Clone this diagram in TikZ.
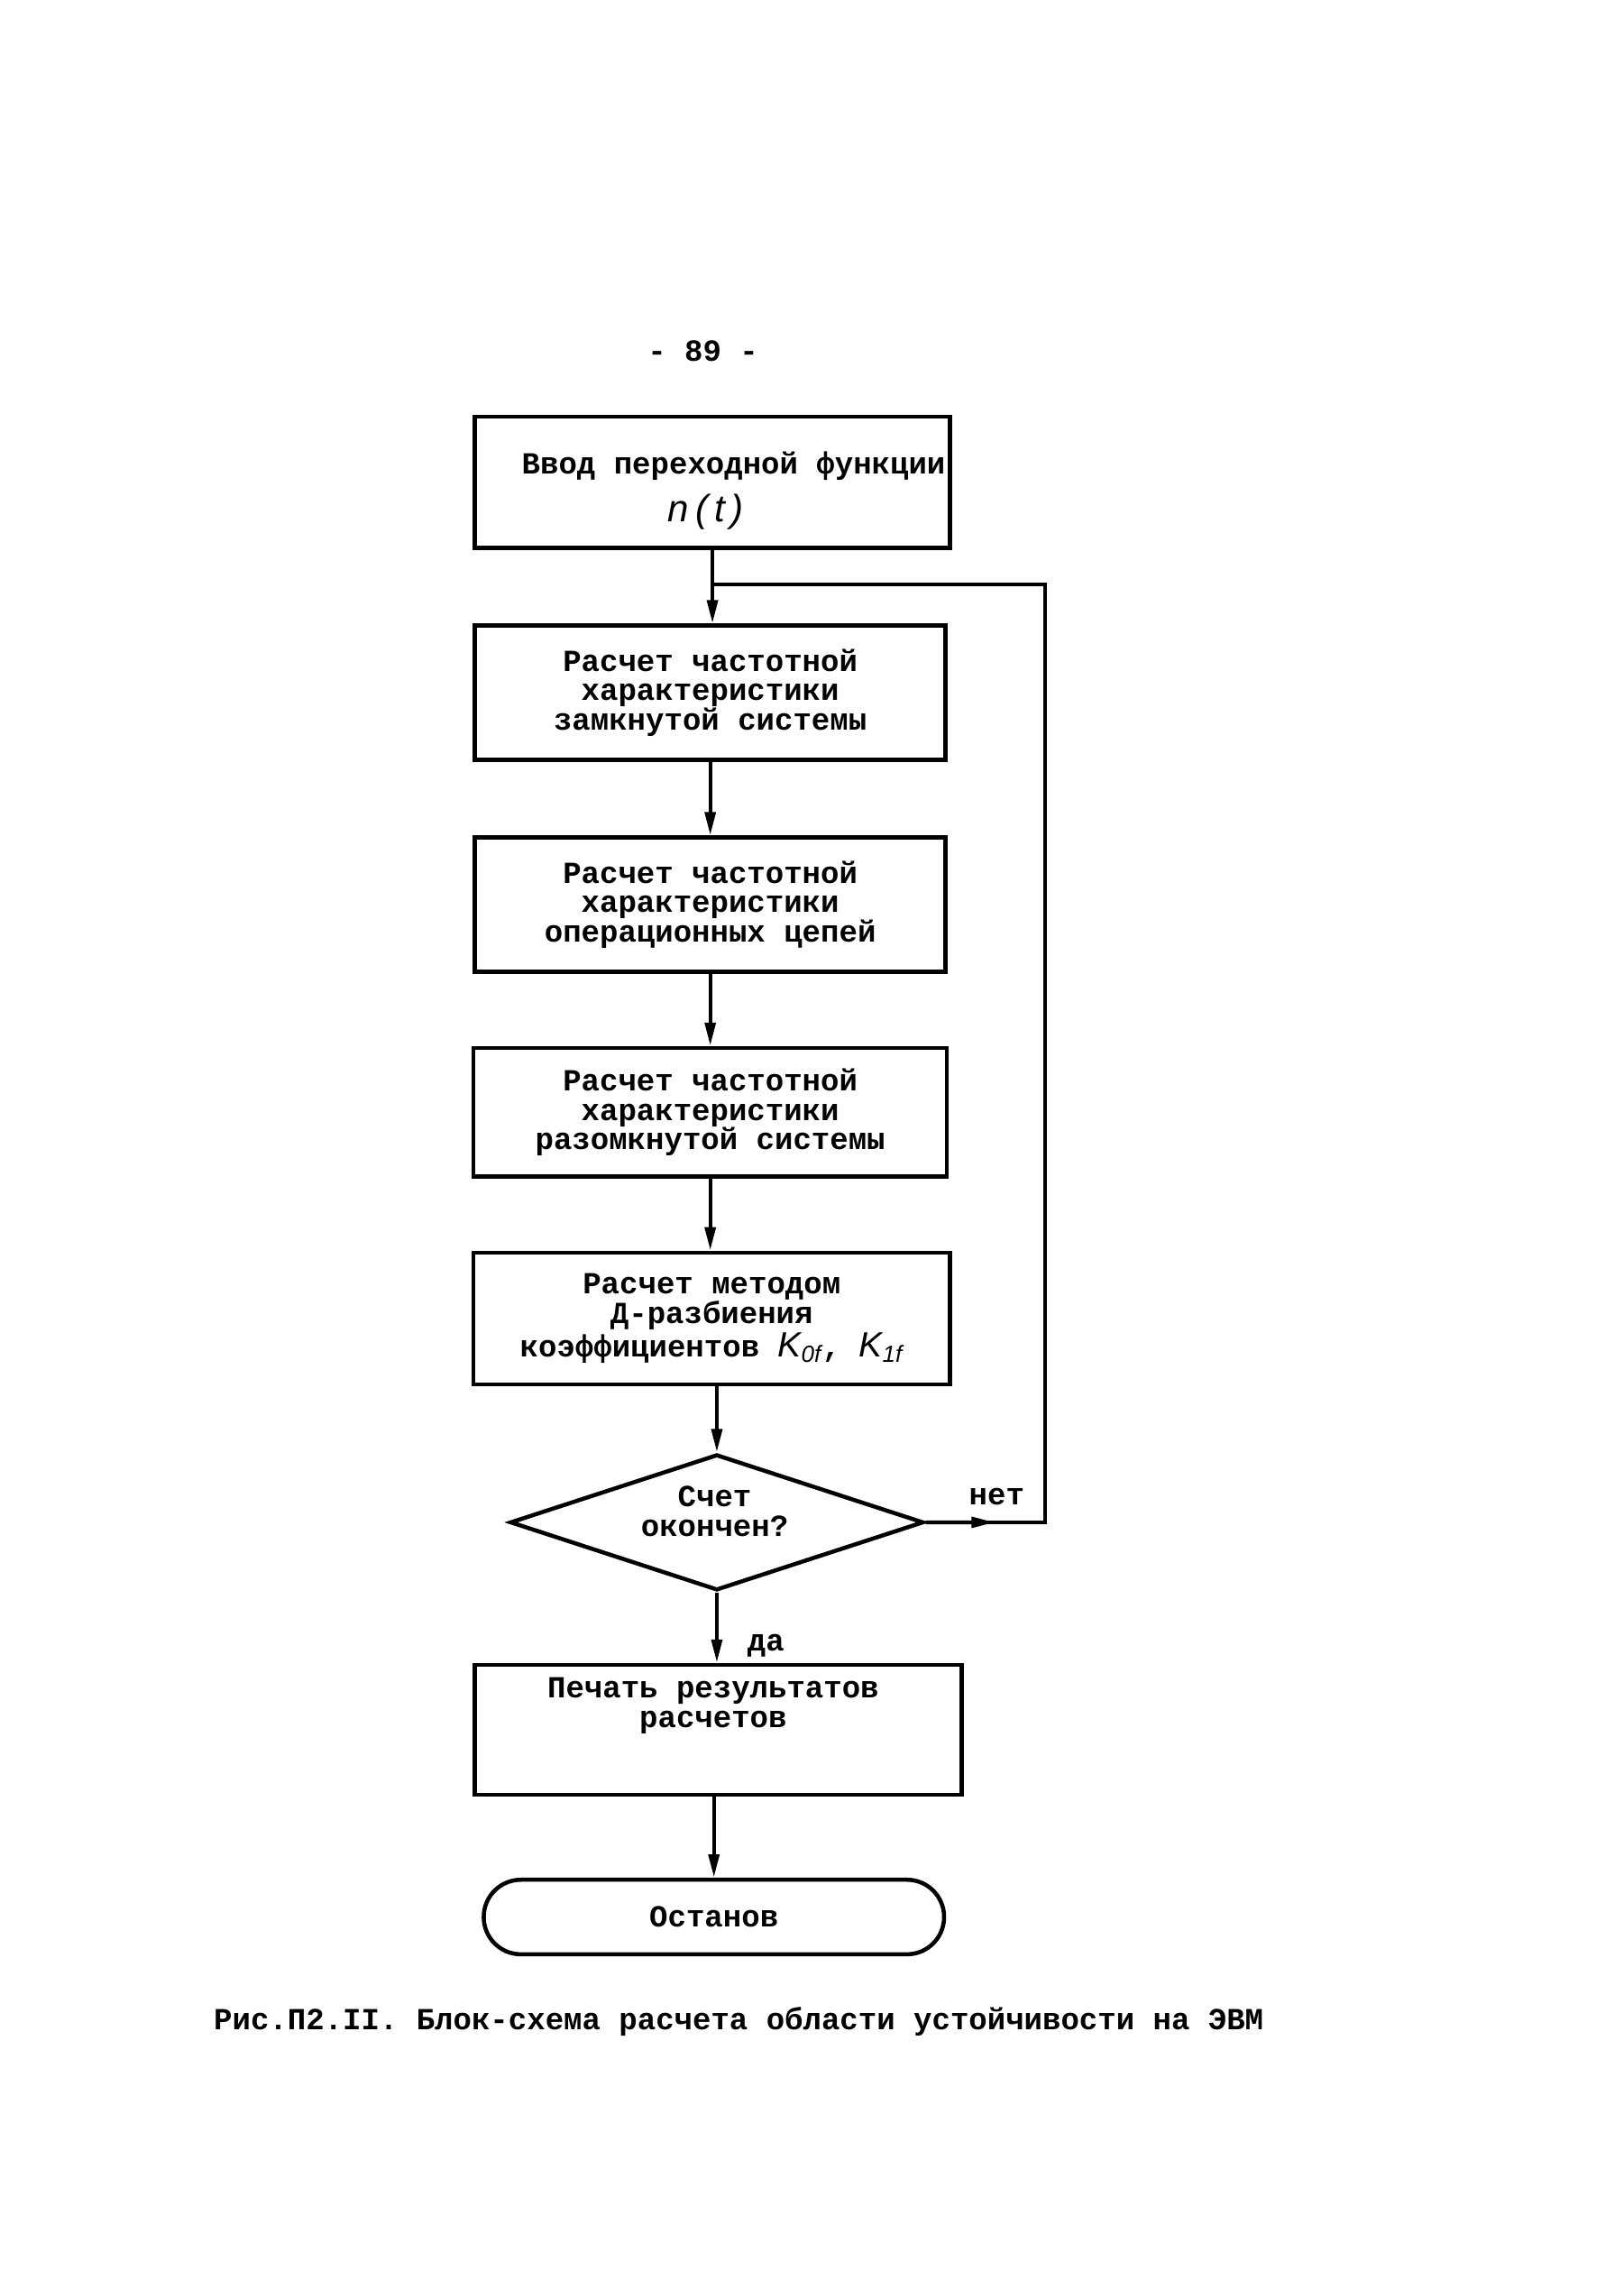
\documentclass[tikz,border=0pt]{standalone}
\usepackage{fontspec}
\setmainfont{Liberation Mono}
\newfontfamily\itfont{Liberation Sans}
\usetikzlibrary{shapes.geometric,arrows.meta,calc}
\newcommand{\kvar}[1]{{\itfont\itshape\mdseries\fontsize{12}{12}\selectfont K\textsubscript{#1}}}
\begin{document}
\begin{tikzpicture}[x=0.5pt,y=-0.5pt,
  every node/.style={font=\bfseries\fontsize{10.5}{10}\selectfont, inner sep=0pt},
  blk/.style={draw, line width=1.4pt, align=center},
  lbl/.style={align=center},
  arr/.style={line width=1.3pt, -{Triangle[length=8pt,width=3.6pt]}},
  ln/.style={line width=1.3pt}]
\useasboundingbox (0,0) rectangle (1111,1566);
\node (pg) at (481,240) {- 89 -};
% blocks
\node[blk, minimum width=162.5pt, minimum height=45pt] (b1) at (487.5,330) {};
\node[lbl] (t1) at (502,319) {Ввод переходной функции};
\node[lbl] (t1b) at (483,350) {\itfont\itshape\mdseries\fontsize{13}{13}\selectfont n\,(\,t\,)};
\node[blk, minimum width=161pt, minimum height=46pt] (b2) at (486,474) {Расчет частотной\\характеристики\\замкнутой системы};
\node[blk, minimum width=161pt, minimum height=46pt] (b3) at (486,619) {Расчет частотной\\характеристики\\операционных цепей};
\node[blk, minimum width=162pt, minimum height=44pt] (b4) at (486,761) {Расчет частотной\\характеристики\\разомкнутой системы};
\node[blk, minimum width=163pt, minimum height=45pt] (b5) at (487,902) {Расчет методом\\Д-разбиения\\коэффициентов \kvar{0f}, \kvar{1f}};
\node[blk, diamond, minimum width=141.5pt, minimum height=46.5pt] (d) at (490.5,1041.5) {};
\node[lbl] (dt) at (489,1034) {Счет\\окончен?};
\node[blk, minimum width=166.5pt, minimum height=44.5pt] (b6) at (491.5,1183.5) {};
\node[lbl] (t6) at (488,1167) {Печать результатов\\расчетов};
\node[blk, rounded corners=12.7pt, minimum width=157.5pt, minimum height=25.5pt] (st) at (488.5,1311.5) {Останов};
% labels
\node (no) at (682,1024) {нет};
\node (yes) at (524,1126) {да};
\node (cap) at (505.5,1383) {Рис.П2.II. Блок-схема расчета области устойчивости на ЭВМ};
% connectors
\coordinate (fb) at (715,400);
\draw[arr] (b1.south) -- (b1.south |- b2.north);
\draw[arr] (b2.south) -- (b3.north);
\draw[arr] (b3.south) -- (b4.north);
\draw[arr] (b4.south) -- (b4.south |- b5.north);
\draw[arr] (d.north |- b5.south) -- (d.north);
\draw[arr] (d.south) -- (d.south |- b6.north);
\draw[arr] (b6.south -| st.north) -- (st.north);
\draw[ln] (d.east) -- (d.east -| fb) -- (fb) -- (fb -| b1.south);
\draw[arr] (d.east) -- ($(d.east)!0.58!(d.east -| fb)$);
\end{tikzpicture}
\end{document}
